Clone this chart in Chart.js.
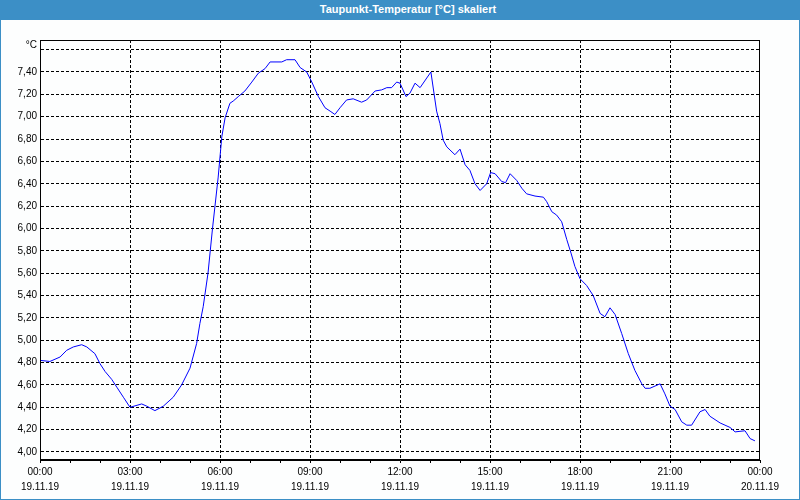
<!DOCTYPE html>
<html>
<head>
<meta charset="utf-8">
<script src="https://cdn.jsdelivr.net/npm/chart.js@4/dist/chart.umd.min.js"></script>
<style>
    body { margin: 0; background: #fff; }
    #frame {
        width: 800px; height: 500px; box-sizing: border-box;
        border: 1px solid #3c8fc6; border-top: 0;
        background: #fdfefe;
    }
    #title {
        height: 20px; margin: 0 -1px; background: #3c8fc6; color: #fff;
        font: bold 11px "Liberation Sans", Arial, sans-serif;
        line-height: 19px; text-align: center; padding-left: 16px;
    }
    canvas { display: block; }
</style>
</head>
<body>
<div id="frame">
    <div id="title">Taupunkt-Temperatur [°C] skaliert</div>
    <canvas id="dewpoint__chart-canvas" width="798" height="479"></canvas>
</div>
<script>
// hours since 19.11.19 00:00
let hours = [0, 0.33, 0.67, 0.89, 1.11, 1.39, 1.56, 1.83, 2.0, 2.17, 2.39, 2.56, 2.78, 3.0,
    3.39, 3.56, 3.83, 4.11, 4.44, 4.72, 5.0, 5.22, 5.33, 5.44, 5.6, 5.75, 5.94, 6.06, 6.17,
    6.33, 6.44, 6.61, 6.83, 7.06, 7.28, 7.5, 7.67, 8.06, 8.22, 8.5, 8.67, 8.89, 9.06, 9.28,
    9.5, 9.67, 9.83, 10.0, 10.22, 10.44, 10.72, 10.89, 11.17, 11.39, 11.56, 11.72, 11.89,
    12.0, 12.2, 12.33, 12.5, 12.67, 13.03, 13.22, 13.33, 13.44, 13.56, 13.83, 14.0, 14.17,
    14.33, 14.5, 14.67, 14.89, 15.02, 15.17, 15.39, 15.52, 15.67, 15.89, 16.06, 16.22, 16.5,
    16.78, 16.89, 17.06, 17.22, 17.39, 17.56, 17.7, 17.83, 18.0, 18.22, 18.44, 18.67, 18.83,
    19.0, 19.17, 19.39, 19.61, 19.83, 20.06, 20.17, 20.33, 20.67, 20.83, 21.0, 21.17, 21.39,
    21.56, 21.72, 22.0, 22.17, 22.33, 22.67, 23.0, 23.17, 23.5, 23.67, 23.83];

let dewPoint = [4.82, 4.81, 4.85, 4.91, 4.94, 4.96, 4.94, 4.88, 4.79, 4.72, 4.65, 4.58, 4.49, 4.40,
    4.43, 4.41, 4.37, 4.41, 4.49, 4.60, 4.75, 4.97, 5.15, 5.30, 5.60, 6.00, 6.46, 6.82, 6.99,
    7.12, 7.14, 7.18, 7.23, 7.31, 7.39, 7.43, 7.49, 7.49, 7.51, 7.51, 7.44, 7.40, 7.31, 7.18,
    7.08, 7.05, 7.02, 7.08, 7.15, 7.16, 7.13, 7.15, 7.23, 7.24, 7.26, 7.26, 7.31,
    7.30, 7.18, 7.21, 7.30, 7.26, 7.40, 7.05, 6.94, 6.79, 6.73, 6.66, 6.71, 6.57,
    6.52, 6.40, 6.34, 6.40, 6.50, 6.49, 6.42, 6.41, 6.49, 6.43, 6.36, 6.31, 6.29,
    6.28, 6.24, 6.15, 6.12, 6.06, 5.90, 5.78, 5.66, 5.55, 5.49, 5.40, 5.24, 5.21,
    5.29, 5.23, 5.06, 4.88, 4.73, 4.61, 4.57, 4.57, 4.61, 4.52, 4.41, 4.38, 4.27,
    4.24, 4.24, 4.36, 4.38, 4.32, 4.26, 4.22, 4.18, 4.19, 4.12, 4.10];

let xTickTimes = ["00:00", "03:00", "06:00", "09:00", "12:00", "15:00", "18:00", "21:00", "00:00"];
let xTickDates = ["19.11.19", "19.11.19", "19.11.19", "19.11.19", "19.11.19", "19.11.19", "19.11.19", "19.11.19", "20.11.19"];

let yTicks = [4.0, 4.2, 4.4, 4.6, 4.8, 5.0, 5.2, 5.4, 5.6, 5.8, 6.0, 6.2, 6.4, 6.6, 6.8, 7.0, 7.2, 7.4, 7.6, 7.64];
let yTickLabels = ["4,00", "4,20", "4,40", "4,60", "4,80", "5,00", "5,20", "5,40", "5,60", "5,80",
    "6,00", "6,20", "6,40", "6,60", "6,80", "7,00", "7,20", "7,40", "", "°C"];

let tickFont = { family: "'Liberation Sans', Arial, sans-serif", size: 10 };

// solid box round the plot area (top + right sides)
let frameBox = {
    id: "frameBox",
    afterDraw(chart) {
        let a = chart.chartArea;
        let ctx = chart.ctx;
        ctx.save();
        ctx.strokeStyle = "#000";
        ctx.lineWidth = 1;
        ctx.strokeRect(Math.round(a.left) + 0.5, Math.round(a.top) + 0.5,
            Math.round(a.right - a.left) - 1, Math.round(a.bottom - a.top) - 1);
        ctx.restore();
    }
};

let dewChart = new Chart(document.getElementById("dewpoint__chart-canvas").getContext("2d"), {
    type: 'line',
    data: {
        datasets: [{
            label: "Taupunkt",
            data: hours.map((h, i) => ({ x: h, y: dewPoint[i] })),
            borderWidth: 1,
            borderColor: "#0000ff",
            pointRadius: 0,
            tension: 0,
            fill: false,
        }]
    },
    options: {
        responsive: false,
        animation: false,
        layout: {
            padding: { left: 0, right: 39, top: 20, bottom: 0 }
        },
        plugins: {
            legend: { display: false },
            tooltip: { enabled: false },
        },
        scales: {
            x: {
                type: 'linear',
                min: 0,
                max: 24,
                afterFit: axis => { axis.height = 39; },
                ticks: {
                    stepSize: 1,
                    autoSkip: false,
                    maxRotation: 0,
                    padding: 2,
                    color: "#000",
                    font: { ...tickFont, lineHeight: 1.45 },
                    callback: (value) => value % 3 === 0 ? [xTickTimes[value / 3], xTickDates[value / 3]] : "",
                },
                grid: {
                    color: ctx => (ctx.tick && ctx.tick.value % 3 === 0 && ctx.tick.value > 0 && ctx.tick.value < 24) ? "#000" : "transparent",
                    lineWidth: 1,
                    drawTicks: true,
                    tickLength: 3,
                    tickColor: "#000",
                },
                border: { display: true, color: "#000", width: 1, dash: [3, 2] },
            },
            y: {
                min: 3.9284,
                max: 7.6863,
                afterFit: axis => { axis.width = 39; },
                afterBuildTicks: axis => { axis.ticks = yTicks.map(v => ({ value: v })); },
                ticks: {
                    padding: 3,
                    color: "#000",
                    font: tickFont,
                    callback: (value, index) => yTickLabels[index],
                },
                grid: {
                    color: ctx => (ctx.tick && ctx.tick.value > 7.61) ? "transparent" : "#000",
                    lineWidth: 1,
                    drawTicks: false,
                },
                border: { display: true, color: "#000", width: 1, dash: [3, 2] },
            }
        }
    },
    plugins: [frameBox]
});
</script>
</body>
</html>
